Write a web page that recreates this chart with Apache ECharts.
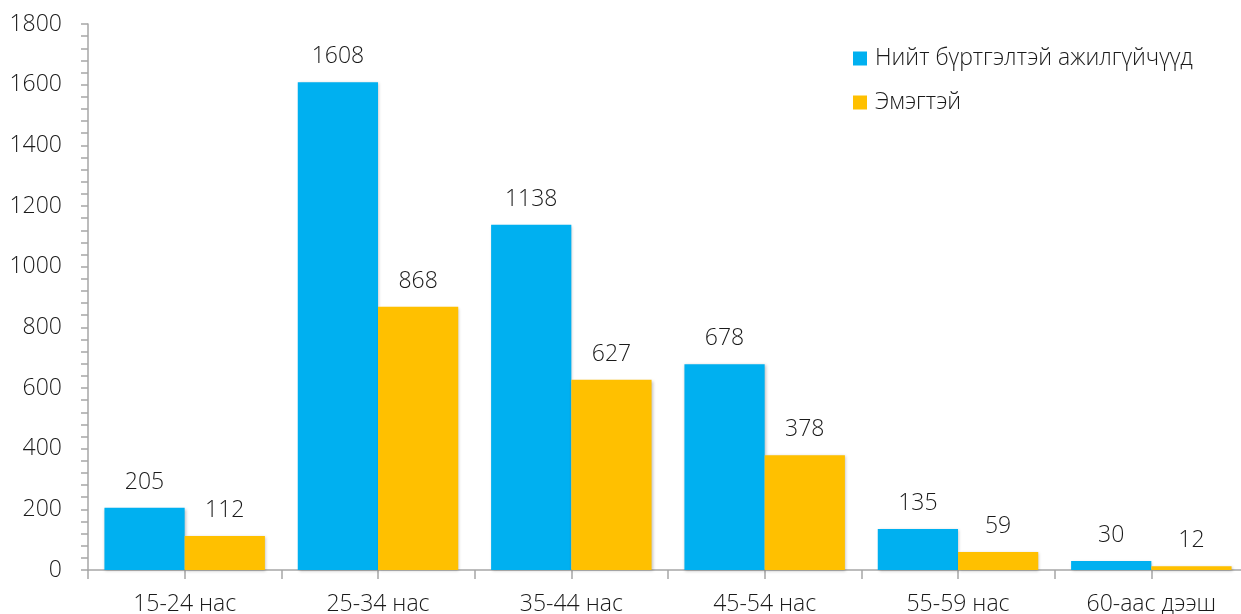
<!DOCTYPE html>
<html><head><meta charset="utf-8">
<script src="https://cdn.jsdelivr.net/npm/echarts@6/dist/echarts.min.js"></script>
<style>html,body{margin:0;padding:0;background:#fff}#c{width:1241px;height:614px}</style>
</head><body><div id="c"></div>
<script>
const categories = ['15-24 нас','25-34 нас','35-44 нас','45-54 нас','55-59 нас','60-аас дээш'];
const totalName = 'Нийт бүртгэлтэй ажилгүйчүүд';
const femaleName = 'Эмэгтэй';
const totalValues = [205,1608,1138,678,135,30];
const femaleValues = [112,868,627,378,59,12];
const yTicks = [0,200,400,600,800,1000,1200,1400,1600,1800];

const font = '"Open Sans", "Noto Sans", sans-serif';
const txt = {fontSize:23, color:'#1a1a1a', fontFamily:font, fontWeight:300};
const chart = echarts.init(document.getElementById('c'));
const labelStyle = Object.assign({show:true, position:'top', distance:14}, txt);
chart.setOption({
  animation:false,
  grid:{left:88, top:24, bottom:44, width:1160, outerBoundsMode:'none', containLabel:false},
  legend:{orient:'vertical', left:848, top:42, itemWidth:14, itemHeight:14, itemGap:21,
    icon:'rect', textStyle:Object.assign({padding:[0,0,0,3]}, txt),
    data:[totalName, femaleName]},
  xAxis:[{type:'category', data:categories, boundaryGap:true,
    axisLine:{lineStyle:{color:'#a6a6a6', width:1.5}},
    axisTick:{show:true, interval:0, length:9, lineStyle:{color:'#a6a6a6', width:1.5}},
    axisLabel:Object.assign({margin:23, interval:0}, txt)},
   {type:'category', data:categories, position:'bottom', boundaryGap:true,
    axisLine:{show:false}, axisLabel:{show:false},
    axisTick:{show:true, interval:0, alignWithLabel:true, length:9, lineStyle:{color:'#a6a6a6', width:1.5}}}],
  yAxis:{type:'value', min:yTicks[0], max:yTicks[yTicks.length-1], interval:200,
    axisLine:{show:true, lineStyle:{color:'#a6a6a6', width:1.5}},
    axisTick:{show:true, length:7, lineStyle:{color:'#a6a6a6', width:1.5}},
    minorTick:{show:true, splitNumber:5, length:7, lineStyle:{color:'#a6a6a6', width:1.5}},
    splitLine:{show:false},
    axisLabel:Object.assign({margin:26, formatter:v => String(v)}, txt)},
  series:[
    {name:totalName, type:'bar', data:totalValues, barGap:'0%', barCategoryGap:'17%',
     itemStyle:{color:'#00B0F0', shadowColor:'rgba(0,0,0,0.25)', shadowBlur:3, shadowOffsetX:1, shadowOffsetY:1},
     label:labelStyle},
    {name:femaleName, type:'bar', data:femaleValues,
     itemStyle:{color:'#FFC000', shadowColor:'rgba(0,0,0,0.25)', shadowBlur:3, shadowOffsetX:1, shadowOffsetY:1},
     label:labelStyle}
  ]
});
</script></body></html>
